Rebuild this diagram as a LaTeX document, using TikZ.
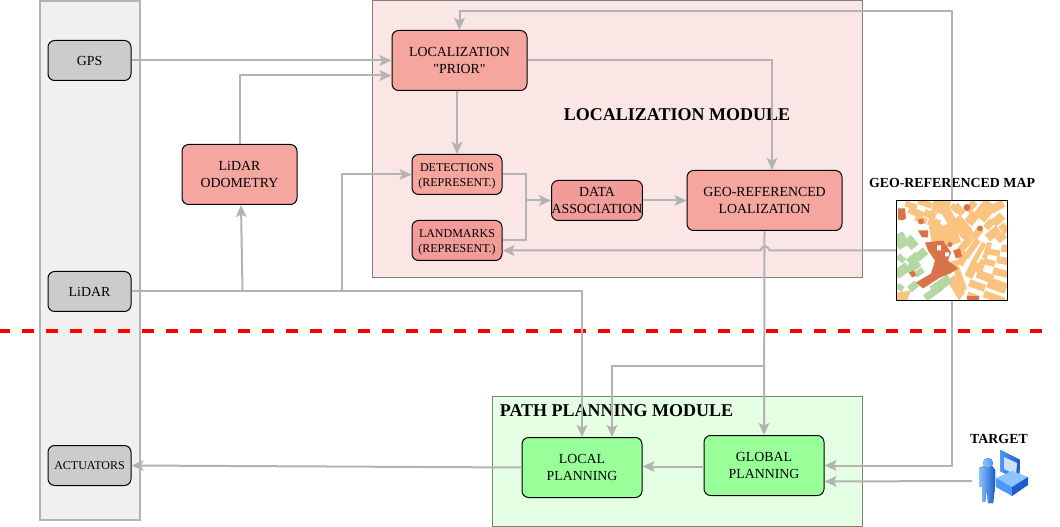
\documentclass[tikz,border=0pt]{standalone}
\usepackage{fontspec}
\setmainfont{Liberation Serif}
\newfontfamily\rawserif{Liberation Serif}
\usetikzlibrary{calc,arrows.meta}
\definecolor{linegray}{HTML}{B3B3B3}
\definecolor{panelgray}{HTML}{F0F0F0}
\definecolor{panelred}{HTML}{FBE6E6}
\definecolor{panelgreen}{HTML}{E4FFE4}
\definecolor{boxgray}{HTML}{CCCCCC}
\definecolor{boxred}{HTML}{F4A69F}
\definecolor{boxredd}{HTML}{F19C99}
\definecolor{boxgreen}{HTML}{99FF99}
\definecolor{maporange}{HTML}{FBC380}
\definecolor{mapdark}{HTML}{D9744A}
\definecolor{mapgreen}{HTML}{B4D7A4}
\definecolor{iconlight}{HTML}{8CC4FF}
\definecolor{iconmid}{HTML}{4A98FF}
\definecolor{icondark}{HTML}{1D5CCB}
\definecolor{iconscreen}{HTML}{CFE0F8}
\def\px{.75pt}
\def\lowtxt{\rule{0pt}{9pt}}
\tikzset{
  panel/.style={draw=black!50,line width=.75pt},
  box/.style={draw=black,line width=.75pt,rounded corners=5pt,inner sep=0pt,align=center,
    minimum width=#1*\px,font=\fontsize{10.4}{12.75}\selectfont},
  small/.style={font=\fontsize{9}{11.25}\selectfont},
  link/.style={draw=linegray,line width=1.5pt,-{Stealth[inset=2pt,length=9pt,width=8pt]}},
  plain/.style={draw=linegray,line width=1.5pt},
  block/.style={fill=maporange}
}
\begin{document}
\begin{tikzpicture}[x=.75pt,y=-.75pt]
  \useasboundingbox (0,0) rectangle (1060,527);
  % panels
  \filldraw[draw=linegray,line width=1.2pt,fill=panelgray] (40,1) rectangle (140,520);
  \filldraw[panel,fill=panelred] (372,.5) rectangle (862,278);
  \filldraw[panel,fill=panelgreen] (492,396) rectangle (862,526);
  \draw[red,line width=3pt,dash pattern=on 9pt off 9pt] (-2,330.5) -- (1045,330.5);
  \node[font=\fontsize{13.5}{16}\selectfont\bfseries] (locname) at (677,114.5) {LOCALIZATION MODULE};
  \node[font=\fontsize{13.5}{16}\selectfont\bfseries] (pathname) at (616.5,411) {PATH PLANNING MODULE};
  \node[font=\fontsize{10.4}{12}\selectfont\bfseries] (mapname) at (952,182.5) {GEO-REFERENCED MAP};
  \node[font=\fontsize{10.4}{12}\selectfont\bfseries] (targetname) at (999,438.5) {TARGET};
  % sensors
  \node[box=83,fill=boxgray,minimum height=40*\px] (gps) at (89.5,60.5) {GPS};
  \node[box=83,fill=boxgray,minimum height=40*\px] (lidar) at (89.5,291.5) {LiDAR};
  \node[box=83,fill=boxgray,minimum height=40*\px,small] (act) at (89.5,465.5) {ACTUATORS};
  % localization
  \node[box=115,fill=boxred,minimum height=60*\px] (odo) at (239.5,174.5) {LiDAR\\ODOMETRY};
  \node[box=135,fill=boxred,minimum height=60*\px] (prior) at (459.5,60.5) {LOCALIZATION\\{\rawserif"PRIOR"}};
  \node[box=90,fill=boxred,minimum height=40*\px,small] (det) at (457,174.5) {\lowtxt DETECTIONS\\(REPRESENT.)};
  \node[box=90,fill=boxredd,minimum height=40*\px,small] (land) at (457,240.5) {\lowtxt LANDMARKS\\(REPRESENT.)};
  \node[box=90,fill=boxredd,minimum height=40*\px] (data) at (597,200.5) {DATA\\ASSOCIATION};
  \node[box=155,fill=boxred,minimum height=60*\px] (geo) at (764.5,200.5) {GEO-REFERENCED\\LOALIZATION};
  % planning
  \node[box=120,fill=boxgreen,minimum height=60*\px] (local) at (582,467.5) {LOCAL\\PLANNING};
  \node[box=120,fill=boxgreen,minimum height=60*\px] (global) at (764,465.5) {GLOBAL\\PLANNING};
  \node[minimum width=110*\px,minimum height=100*\px,inner sep=0pt] (geomap) at (952,250.5) {};
  \coordinate (target) at (972,481);
  \coordinate (join) at ($(data.west)+(-25,0)$);
  \coordinate (branch) at (763,366);
  % connectors
  \draw[link] (gps.east) -- (prior.west);
  \draw[link] (odo.north) |- ($(prior.west)+(0,15)$);
  \draw[link] ($(lidar.east -| odo.south)+(3,0)$) -- ($(odo.south)+(1.5,0)$);
  \draw[link] (342,291.5) |- (det.west);
  \draw[link] (lidar.east) -| (local.north);
  \draw[link] (det.north |- prior.south) -- (det.north);
  \draw[link] (prior.east) -| ($(geo.north)+(7.5,0)$);
  \draw[plain] (det.east) -| (join);
  \draw[plain] (land.east) -| (join);
  \draw[link] (join) -- (data.west);
  \draw[link] (data.east) -- (geo.west);
  \draw[link] (geomap.west) -- (769.5,250.5) .. controls (769,245) and (761,245) .. (760.5,250.5) -- ($(land.east)+(0,10)$);
  \draw[link] (geo.south) -- (global.north);
  \draw[link] (branch) -| ($(local.north)+(30,0)$);
  \draw[link] (geomap.south) |- (global.east);
  \draw[link] (geomap.north) |- ($(prior.north)+(0,-19)$) -- (prior.north);
  \draw[link] (target) -- ($(global.east)+(0,16)$);
  \draw[link] (local.west) -- (act.east);
  \draw[link] ($(global.west)+(0,1)$) -- ($(local.east)+(0,-1)$);
  % map
  \begin{scope}[shift={(897,200.5)}]
    \clip (0,0) rectangle (110,100);
    \fill[white] (0,0) rectangle (110,100);
    \foreach \x/\y/\r/\w/\h in {14/5/20/10/5,19/12/25/13/6,24/19/20/10/5,33/14/20/10/6,28/3/20/12/5,
      44/6/15/14/12,37/22/20/10/7,52/16/60/12/8,62/9/50/10/6,64/26/50/16/11,53/34/70/18/13,40/34/80/16/11,
      88/10/-50/16/12,75/18/-50/10/8,100/6/-30/12/7,101/19/-40/10/7,92/24/-50/8/6,80/33/-50/10/6,
      96/33/-40/12/7,104/37/-40/8/6,68/44/-50/16/6,75/48/-55/18/5,82/52/-60/18/4,90/50/-70/14/4,
      97/52/10/10/5,105/60/10/9/6,92/62/15/10/5,103/72/15/12/6,84/66/-70/12/5,75/69/-65/14/7,
      88/76/20/14/7,80/85/20/14/6,100/85/20/16/9,97/97/20/18/6,76/96/20/10/5,62/75/70/26/5,
      66/58/-60/12/6,58/8/40/8/5,74/6/-50/10/6,107/28/-40/6/8,70/34/-50/10/6,108/48/10/6/6}
      \fill[block,shift={(\x,\y)},rotate=-\r] ({-.6*\w},{-.6*\h}) rectangle ({.6*\w},{.6*\h});
    \fill[block] (58,74) -- (68,92) -- (62,100) -- (50,80) -- cycle;
    \fill[block] (0,92) -- (14,90) -- (10,100) -- (0,100) -- cycle;
    \foreach \x/\y/\r/\w/\h in {4/40/60/12/10,14/42/50/10/8,4/58/40/7/5,16/58/-40/10/6,24/54/-40/10/7,
      16/66/-35/12/7,5/70/-35/12/8,22/72/-35/8/5,44/84/-35/18/8,36/92/-35/16/6,3/87/30/6/5,16/86/-40/8/6}
      \fill[mapgreen,shift={(\x,\y)},rotate=-\r] ({-.6*\w},{-.6*\h}) rectangle ({.6*\w},{.6*\h});
    \fill[mapdark] (1,8) -- (8,8) -- (9,18) -- (5,20) -- (1,19) -- cycle;
    \fill[mapdark] (21,30) -- (31,30) -- (31,37) -- (25,37) -- cycle;
    \fill[mapdark] (24,21) circle (3);
    \fill[mapdark] (53,44) circle (2.5);
    \fill[mapdark] (70,7) circle (3.5);
    \fill[mapdark] (83,28) circle (3);
    \fill[mapdark] (56,50) -- (63,48) -- (65,56) -- (59,58) -- cycle;
    \fill[mapdark] (28,42) -- (46,40) -- (54,52) -- (51,60) -- (61,68) -- (53,73) -- (43,77) -- (26,88) -- (19,82)
      -- (34,73) -- (38,60) -- (31,50) -- cycle;
    \fill[white] (40,45) rectangle (44,50) (48,52) rectangle (52,56);
    \fill[mapdark] (70,96) rectangle (82,100);
    \fill[mapdark] (12,72) -- (17,70) -- (19,75) -- (15,77) -- cycle;
  \end{scope}
  \draw[black,line width=.75pt] (geomap.south west) rectangle (geomap.north east);
  % target icon
  \fill[left color=iconlight,right color=icondark] (979,468) -- (984,466) -- (992,466) -- (995,470)
    -- (995,486) -- (993,503) -- (988,503) -- (987,488) -- (985,502) -- (982,501) -- (982,487) -- (979,486) -- cycle;
  \fill[left color=iconlight,right color=iconmid] (988,463) circle (5);
  \fill[left color=iconmid,right color=icondark] (1000,450) -- (1020,460) -- (1019,480) -- (1000,471) -- cycle;
  \fill[iconscreen] (1004,457) -- (1017,463) -- (1016,475) -- (1004,469) -- cycle;
  \fill[iconlight] (996,478) -- (1012,471) -- (1028,477) -- (1012,487) -- cycle;
  \fill[iconmid] (996,478) -- (1012,487) -- (1012,496) -- (996,487) -- cycle;
  \fill[icondark] (1012,487) -- (1028,477) -- (1028,485) -- (1012,496) -- cycle;
\end{tikzpicture}
\end{document}
